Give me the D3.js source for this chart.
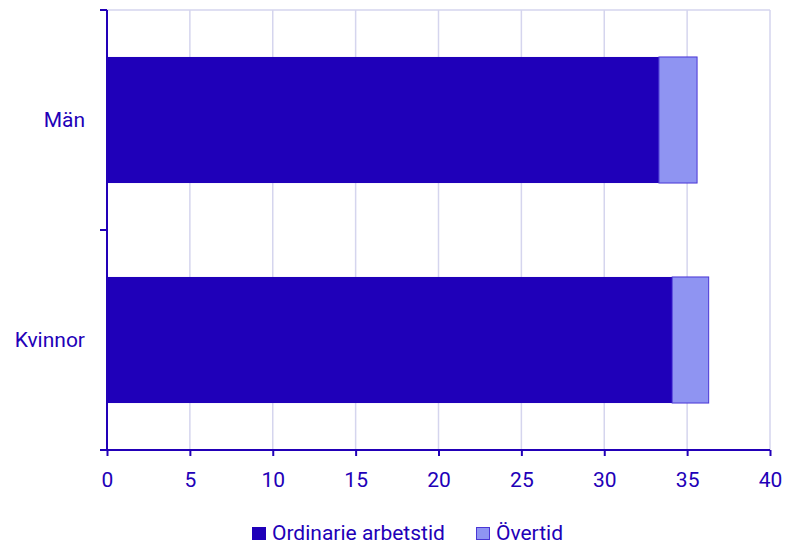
<!DOCTYPE html>
<html>
<head>
<meta charset="utf-8">
<script src="https://cdn.jsdelivr.net/npm/d3@7"></script>
<style>
  body { margin: 0; background: #fff; }
  svg text { font-family: Roboto, sans-serif; fill: #2200b8; }
</style>
</head>
<body>
<svg id="chart" width="790" height="544"></svg>
<script>
// data
const categories = ["Män", "Kvinnor"]
const ordinarie = [33.3, 34.1]
const overtid = [2.3, 2.2]
const seriesNames = ["Ordinarie arbetstid", "Övertid"]
const xTicks = [0, 5, 10, 15, 20, 25, 30, 35, 40]

const dark = "#1f00b9"
const light = "#8f94f2"
const lightStroke = "#4a36d6"
const axisColor = "#2200b8"
const gridColor = "#d5d5ee"
const fontSize = "21px"

const margin = {top: 10, left: 107, right: 20, bottom: 94}
const width = 790 - margin.left - margin.right
const height = 544 - margin.top - margin.bottom

const svg = d3.select("#chart")
const g = svg.append("g").attr("transform", "translate(" + margin.left + "," + margin.top + ")")

const x = d3.scaleLinear().domain([0, 40]).range([0, width])
const y = d3.scaleBand().domain(categories).range([0, height]).paddingInner(0.427).paddingOuter(0.2135)

// gridlines
g.selectAll(".grid").data(xTicks.slice(1)).enter().append("line")
  .attr("x1", d => x(d)).attr("x2", d => x(d))
  .attr("y1", 0).attr("y2", height)
  .attr("stroke", gridColor).attr("stroke-width", 1.5)
g.append("line").attr("x1", 0).attr("x2", width).attr("y1", 0).attr("y2", 0)
  .attr("stroke", gridColor).attr("stroke-width", 1.5)

// bars
const rows = categories.map((c, i) => ({cat: c, a: ordinarie[i], b: overtid[i]}))
g.selectAll(".bar1").data(rows).enter().append("rect")
  .attr("x", x(0)).attr("y", d => y(d.cat))
  .attr("width", d => x(d.a) - x(0)).attr("height", y.bandwidth())
  .attr("fill", dark)
g.selectAll(".bar2").data(rows).enter().append("rect")
  .attr("x", d => x(d.a)).attr("y", d => y(d.cat))
  .attr("width", d => x(d.a + d.b) - x(d.a)).attr("height", y.bandwidth())
  .attr("fill", light).attr("stroke", lightStroke).attr("stroke-width", 1)

// x axis
const xAxis = g.append("g").attr("transform", "translate(0," + height + ")")
  .call(d3.axisBottom(x).tickValues(xTicks).tickSize(6).tickPadding(16).tickSizeOuter(0))
xAxis.select(".domain").attr("stroke", axisColor).attr("stroke-width", 2)
  .attr("d", "M-7,0H" + width)
xAxis.selectAll(".tick line").attr("stroke", axisColor).attr("stroke-width", 2)
xAxis.selectAll("text").style("font-size", fontSize).attr("fill", axisColor)

// y axis
const yAxis = g.append("g")
  .call(d3.axisLeft(y).tickSize(0).tickPadding(22))
yAxis.select(".domain").attr("stroke", axisColor).attr("stroke-width", 2)
  .attr("d", "M0,0V" + height)
yAxis.selectAll("text").style("font-size", fontSize).attr("fill", axisColor)

// boundary ticks between categories
const bounds = d3.range(categories.length + 1).map(i => i * height / categories.length)
g.selectAll(".ytick").data(bounds).enter().append("line")
  .attr("x1", -7).attr("x2", 0).attr("y1", d => d).attr("y2", d => d)
  .attr("stroke", axisColor).attr("stroke-width", 2)

// legend
const legend = svg.append("g").attr("transform", "translate(252,527)")
const items = [{name: seriesNames[0], color: dark, stroke: dark, x: 0}, {name: seriesNames[1], color: light, stroke: lightStroke, x: 224}]
items.forEach(it => {
  legend.append("rect").attr("x", it.x + 0.5).attr("y", 0.5).attr("width", 13).attr("height", 12)
    .attr("fill", it.color).attr("stroke", it.stroke).attr("stroke-width", 1)
  legend.append("text").attr("x", it.x + 20).attr("y", 12.5)
    .style("font-size", fontSize).text(it.name)
})
</script>
</body>
</html>
